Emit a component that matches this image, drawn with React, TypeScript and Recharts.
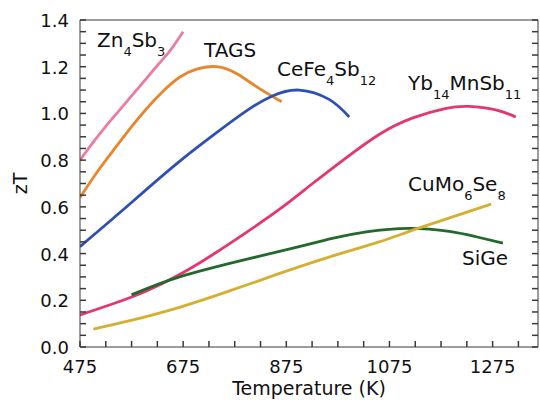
import { LineChart, Line, XAxis, YAxis } from 'recharts'

// temperatures (K) and zT values
const zn4sb3Temp = [475, 500, 525, 550, 575, 600, 625, 650, 675]
const zn4sb3ZT = [0.8, 0.875, 0.945, 1.01, 1.075, 1.14, 1.205, 1.27, 1.35]

const tagsTemp = [475, 507, 539, 572, 604, 636, 668, 701, 740, 779, 817, 866]
const tagsZT = [0.64, 0.745, 0.84, 0.935, 1.02, 1.095, 1.155, 1.19, 1.2, 1.17, 1.115, 1.05]

const cefeTemp = [475, 539, 604, 668, 732, 797, 848, 900, 958, 997]
const cefeZT = [0.43, 0.55, 0.675, 0.795, 0.905, 1.01, 1.075, 1.1, 1.06, 0.985]

const ybTemp = [475, 539, 604, 668, 732, 797, 862, 926, 991, 1055, 1119, 1185, 1229, 1281, 1320]
const ybZT = [0.137, 0.185, 0.24, 0.31, 0.395, 0.49, 0.59, 0.7, 0.81, 0.91, 0.98, 1.022, 1.03, 1.015, 0.985]

const sigeTemp = [575, 668, 797, 900, 964, 1030, 1113, 1191, 1243, 1295]
const sigeZT = [0.223, 0.3, 0.375, 0.43, 0.465, 0.493, 0.508, 0.495, 0.472, 0.445]

const cumoTemp = [501, 572, 668, 765, 862, 958, 1055, 1133, 1272]
const cumoZT = [0.077, 0.113, 0.17, 0.24, 0.315, 0.385, 0.45, 0.51, 0.612]

const tempTicks = [475, 525, 575, 625, 675, 725, 775, 825, 875, 925, 975, 1025, 1075, 1125, 1175, 1225, 1275, 1325]
const tempLabels = [475, 675, 875, 1075, 1275]
const ztTicks = [0, 0.05, 0.1, 0.15, 0.2, 0.25, 0.3, 0.35, 0.4, 0.45, 0.5, 0.55, 0.6, 0.65, 0.7, 0.75, 0.8, 0.85, 0.9, 0.95, 1, 1.05, 1.1, 1.15, 1.2, 1.25, 1.3, 1.35, 1.4]
const ztLabels = [0, 0.2, 0.4, 0.6, 0.8, 1, 1.2, 1.4]

const toPoints = (temps: number[], zts: number[]) => temps.map((t, i) => ({ t, z: zts[i] }))

const series = [
  { id: 'zn4sb3', points: toPoints(zn4sb3Temp, zn4sb3ZT), color: '#ec7ca2' },
  { id: 'tags', points: toPoints(tagsTemp, tagsZT), color: '#e8862c' },
  { id: 'cefe', points: toPoints(cefeTemp, cefeZT), color: '#2e50b4' },
  { id: 'yb', points: toPoints(ybTemp, ybZT), color: '#e4376f' },
  { id: 'sige', points: toPoints(sigeTemp, sigeZT), color: '#23692c' },
  { id: 'cumo', points: toPoints(cumoTemp, cumoZT), color: '#d6ae30' },
]

const FONT = '"DejaVu Sans", sans-serif'
const AXIS = '#3a3a3a'
const TEXT = '#111'
const TICK_LEN = 6

const isIn = (list: number[], v: number) => list.some((l) => Math.abs(l - v) < 1e-6)

// tick lines come from recharts (negative tickSize = inward), labels only on the major values
function BottomLabel({ x, y, payload }: any) {
  if (!isIn(tempLabels, payload.value)) return <g />
  return (
    <text x={x} y={y + 32} textAnchor="middle" fontSize={18} fontFamily={FONT} fill={TEXT}>
      {payload.value}
    </text>
  )
}

function LeftLabel({ x, y, payload }: any) {
  if (!isIn(ztLabels, payload.value)) return <g />
  return (
    <text x={x - 17} y={y + 7} textAnchor="end" fontSize={18} fontFamily={FONT} fill={TEXT}>
      {payload.value.toFixed(1)}
    </text>
  )
}

const NoLabel = () => <g />

const tickLineStyle = { stroke: AXIS, strokeWidth: 1.5 }

// curve labels, subscripts as small dropped spans
const Sub = ({ children }: { children: string }) => (
  <span style={{ fontSize: 13, position: 'relative', top: 9 }}>{children}</span>
)

const labelStyle = (left: number, baseline: number): React.CSSProperties => ({
  position: 'absolute',
  left,
  top: baseline - 17,
  fontSize: 20,
  lineHeight: '20px',
  fontFamily: FONT,
  color: TEXT,
  whiteSpace: 'nowrap',
})

export default function App() {
  return (
    <div style={{ position: 'absolute', left: 0, top: 0, width: 540, height: 400, background: '#fff' }}>
      <LineChart width={540} height={400} margin={{ top: 19, right: 1, bottom: 3, left: 0 }}>
        <XAxis
          xAxisId="x"
          type="number"
          dataKey="t"
          domain={[475, 1363]}
          allowDataOverflow
          ticks={tempTicks}
          interval={0}
          height={50}
          tickSize={-TICK_LEN}
          tickMargin={0}
          stroke={AXIS}
          tickLine={tickLineStyle}
          tick={(p: any) => <BottomLabel {...p} />}
          label={{ value: 'Temperature (K)', position: 'insideBottom', offset: 2, fontSize: 19, fontFamily: FONT, fill: TEXT }}
        />
        <XAxis
          xAxisId="top"
          orientation="top"
          type="number"
          domain={[475, 1363]}
          allowDataOverflow
          ticks={tempTicks}
          interval={0}
          height={1}
          tickSize={-TICK_LEN}
          tickMargin={0}
          stroke={AXIS}
          tickLine={tickLineStyle}
          tick={NoLabel}
        />
        <YAxis
          yAxisId="y"
          type="number"
          domain={[0, 1.4]}
          allowDataOverflow
          ticks={ztTicks}
          interval={0}
          width={80}
          tickSize={-TICK_LEN}
          tickMargin={0}
          stroke={AXIS}
          tickLine={tickLineStyle}
          tick={(p: any) => <LeftLabel {...p} />}
          label={{
            value: 'zT',
            angle: -90,
            position: 'insideLeft',
            offset: 20,
            fontSize: 19,
            fontFamily: FONT,
            fill: TEXT,
            style: { textAnchor: 'middle' },
          }}
        />
        <YAxis
          yAxisId="right"
          orientation="right"
          type="number"
          domain={[0, 1.4]}
          allowDataOverflow
          ticks={ztTicks}
          interval={0}
          width={1}
          tickSize={-TICK_LEN}
          tickMargin={0}
          stroke={AXIS}
          tickLine={tickLineStyle}
          tick={NoLabel}
        />
        {series.map((s) => (
          <Line
            key={s.id}
            xAxisId="x"
            yAxisId="y"
            data={s.points}
            dataKey="z"
            type="natural"
            stroke={s.color}
            strokeWidth={2.8}
            dot={false}
            activeDot={false}
            isAnimationActive={false}
          />
        ))}
      </LineChart>

      <div style={labelStyle(97, 47)}>
        Zn<Sub>4</Sub>Sb<Sub>3</Sub>
      </div>
      <div style={labelStyle(204, 57)}>TAGS</div>
      <div style={labelStyle(277, 76)}>
        CeFe<Sub>4</Sub>Sb<Sub>12</Sub>
      </div>
      <div style={labelStyle(408, 90)}>
        Yb<Sub>14</Sub>MnSb<Sub>11</Sub>
      </div>
      <div style={labelStyle(408, 191)}>
        CuMo<Sub>6</Sub>Se<Sub>8</Sub>
      </div>
      <div style={labelStyle(462, 265)}>SiGe</div>
    </div>
  )
}
